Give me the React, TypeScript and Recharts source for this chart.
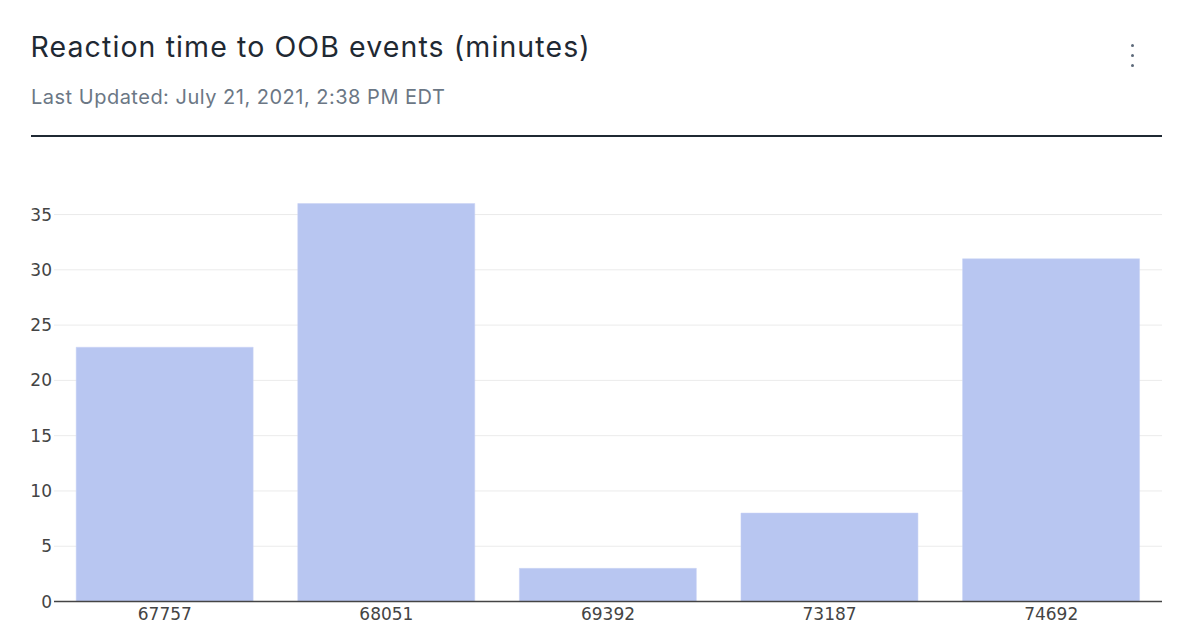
import React from "react";
import { BarChart, Bar, XAxis, YAxis, CartesianGrid } from "recharts";

const categories = ["67757", "68051", "69392", "73187", "74692"];
const reactionMinutes = [23, 36, 3, 8, 31];
const yTicks = [0, 5, 10, 15, 20, 25, 30, 35];

const data = categories.map((c, i) => ({ id: c, value: reactionMinutes[i] }));

const tickStyle = { fontFamily: "DejaVu Sans", fontSize: 17, fill: "#444444" };

export default function App() {
  return (
    <div
      style={{
        position: "absolute",
        left: 0,
        top: 0,
        width: 1202,
        height: 638,
        background: "#ffffff",
        overflow: "hidden",
      }}
    >
      <div
        style={{
          position: "absolute",
          left: 30.5,
          top: 32.5,
          fontFamily: "Inter",
          fontSize: 28.5,
          lineHeight: "28.5px",
          letterSpacing: 1.1,
          color: "#1f2933",
          whiteSpace: "nowrap",
        }}
      >
        Reaction time to OOB events (minutes)
      </div>
      <div
        style={{
          position: "absolute",
          left: 31,
          top: 86.7,
          fontFamily: "Inter",
          fontSize: 20,
          lineHeight: "20px",
          letterSpacing: 0.5,
          color: "#6b7785",
          whiteSpace: "nowrap",
        }}
      >
        Last Updated: July 21, 2021, 2:38 PM EDT
      </div>
      {[45.7, 55.7, 65.7].map((y) => (
        <div
          key={y}
          style={{
            position: "absolute",
            left: 1130.5,
            top: y - 1.5,
            width: 3,
            height: 3,
            borderRadius: 1.5,
            background: "#5d6a7a",
          }}
        />
      ))}
      <div
        style={{
          position: "absolute",
          left: 31,
          top: 135,
          width: 1131,
          height: 2,
          background: "#1f2933",
        }}
      />
      <div style={{ position: "absolute", left: 0, top: 0 }}>
        <BarChart
          width={1202}
          height={638}
          data={data}
          margin={{ top: 182.5, right: 40, left: 0, bottom: 6.5 }}
          barCategoryGap="10%"
        >
          <CartesianGrid
            vertical={false}
            horizontalValues={yTicks}
            stroke="#ebebeb"
            strokeWidth={1}
          />
          <XAxis
            dataKey="id"
            height={30}
            tickLine={false}
            tickSize={4}
            tickMargin={2}
            axisLine={{ stroke: "#444444", strokeWidth: 1.5 }}
            tick={tickStyle}
            interval={0}
          />
          <YAxis
            width={54}
            domain={[0, 37.9]}
            ticks={yTicks}
            tickLine={false}
            tickSize={0}
            tickMargin={2}
            axisLine={false}
            tick={tickStyle}
            allowDataOverflow
          />
          <Bar
            dataKey="value"
            fill="#b8c6f1"
            stroke="#c8d3f4"
            strokeWidth={0.5}
            isAnimationActive={false}
          />
        </BarChart>
      </div>
    </div>
  );
}
